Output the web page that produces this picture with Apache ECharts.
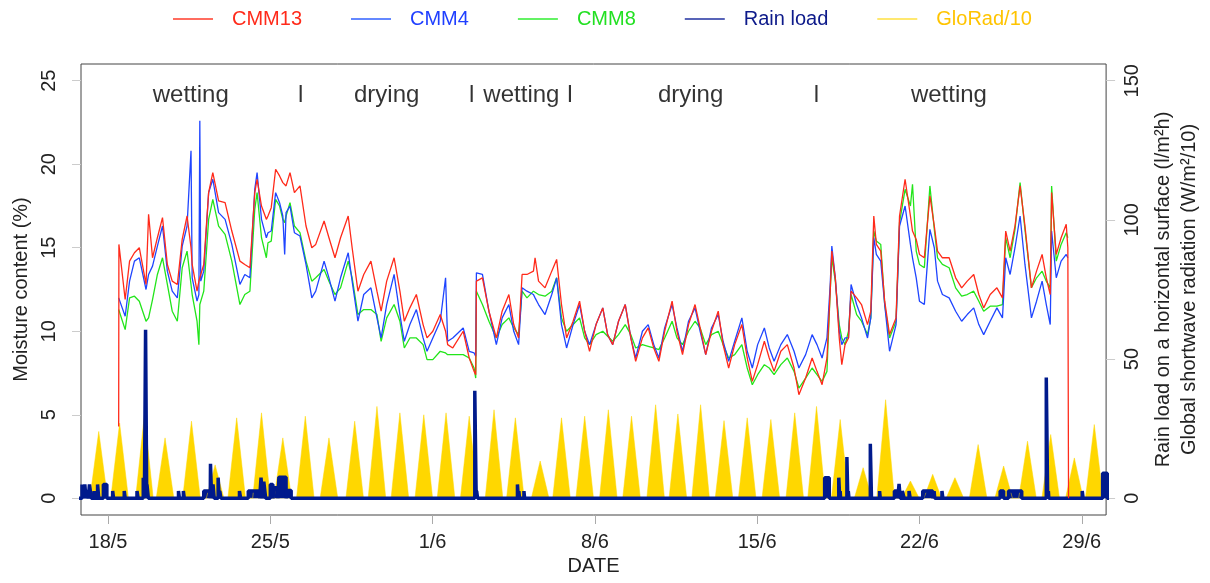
<!DOCTYPE html>
<html style="height: 100%">
<head>
    <meta charset="UTF-8">
    <script src="https://cdn.jsdelivr.net/npm/echarts@6/dist/echarts.min.js"></script>
</head>
<body style="margin: 0; height: 100%; overflow: hidden; background-color: #ffffff">
    <div id="paint" style="width: 100%; height: 100%;"></div>
<script>
    // time in days since 18/5 00:00
    var tickDays = [0, 7, 14, 21, 28, 35, 42];
    var tickLabels = ['18/5', '25/5', '1/6', '8/6', '15/6', '22/6', '29/6'];
    var leftTicks = [0, 5, 10, 15, 20, 25];
    var rightTicks = [0, 50, 100, 150];

    // moisture content (%), shared time points
    var mcT = [0.46, 0.47, 0.74, 0.93, 1.14, 1.35, 1.64, 1.75, 1.92, 2.13, 2.35, 2.56, 2.77, 2.99, 3.2, 3.41, 3.58, 3.63, 3.84, 3.92, 3.96, 4.0, 4.13, 4.34, 4.52, 4.77, 5.05, 5.34, 5.69, 5.9, 6.12, 6.33, 6.43, 6.62, 6.83, 6.9, 7.04, 7.23, 7.4, 7.54, 7.62, 7.68, 7.85, 8.04, 8.28, 8.54, 8.79, 8.96, 9.32, 9.53, 9.79, 10.03, 10.36, 10.53, 10.78, 11.03, 11.34, 11.6, 11.78, 12.02, 12.34, 12.59, 12.78, 13.02, 13.3, 13.59, 13.76, 14.01, 14.33, 14.56, 14.65, 14.87, 15.32, 15.58, 15.79, 15.86, 15.89, 16.15, 16.43, 16.75, 17.0, 17.29, 17.5, 17.71, 17.86, 18.07, 18.35, 18.42, 18.57, 18.85, 19.14, 19.35, 19.56, 19.78, 20.06, 20.34, 20.56, 20.77, 21.05, 21.34, 21.55, 21.77, 22.02, 22.31, 22.55, 22.76, 23.05, 23.3, 23.54, 23.76, 24.01, 24.33, 24.54, 24.78, 25.04, 25.32, 25.54, 25.78, 26.03, 26.32, 26.53, 26.77, 27.03, 27.34, 27.57, 27.79, 28.02, 28.31, 28.52, 28.73, 29.02, 29.3, 29.59, 29.8, 30.09, 30.37, 30.58, 30.8, 31.01, 31.15, 31.22, 31.37, 31.54, 31.65, 31.79, 31.94, 32.05, 32.29, 32.5, 32.76, 32.9, 33.03, 33.14, 33.33, 33.5, 33.71, 33.99, 34.14, 34.38, 34.61, 34.7, 34.86, 35.0, 35.21, 35.45, 35.64, 35.78, 35.99, 36.28, 36.56, 36.82, 37.06, 37.34, 37.56, 37.77, 38.05, 38.34, 38.58, 38.72, 38.91, 39.12, 39.34, 39.55, 39.83, 40.05, 40.29, 40.47, 40.64, 40.7, 40.9, 41.11, 41.33, 41.4, 41.43];
    var cmm13 = [4.3, 15.2, 11.9, 14.2, 14.7, 15.0, 12.8, 17.0, 14.4, 15.6, 16.8, 14.0, 13.0, 12.8, 15.5, 16.9, 15.0, 14.0, 12.4, 13.0, 13.2, 13.2, 14.0, 18.3, 19.5, 17.8, 17.7, 16.0, 14.2, 14.0, 13.8, 18.3, 19.1, 17.5, 16.7, 16.9, 17.4, 19.7, 19.3, 18.9, 19.0, 18.7, 19.5, 18.3, 18.7, 16.3, 15.0, 15.2, 16.6, 15.6, 14.4, 15.6, 16.9, 15.0, 12.4, 13.4, 14.2, 12.4, 11.2, 13.0, 14.4, 12.4, 10.6, 11.4, 12.2, 10.4, 9.6, 10.0, 11.0, 10.0, 9.2, 9.0, 10.0, 8.4, 7.6, 7.4, 13.0, 13.2, 11.2, 9.6, 11.2, 12.2, 10.4, 9.6, 13.4, 13.4, 13.6, 14.4, 13.0, 12.6, 13.6, 14.3, 11.6, 9.6, 10.6, 11.8, 10.0, 8.8, 10.4, 11.4, 9.8, 9.2, 10.6, 11.6, 9.6, 8.2, 9.6, 10.2, 9.0, 8.2, 10.0, 11.8, 10.0, 8.6, 10.4, 11.6, 10.2, 8.6, 10.0, 11.2, 9.2, 7.8, 9.2, 10.4, 8.4, 7.0, 8.0, 9.4, 8.4, 7.6, 8.8, 9.2, 7.8, 6.2, 7.2, 8.4, 7.6, 6.8, 8.4, 12.4, 14.8, 13.2, 9.6, 8.0, 9.2, 9.6, 12.4, 12.0, 11.6, 10.4, 11.2, 16.9, 15.2, 14.8, 11.8, 9.8, 10.8, 16.9, 19.1, 16.9, 16.0, 15.5, 14.6, 14.4, 18.1, 16.3, 14.8, 14.4, 14.4, 13.2, 12.6, 13.0, 13.4, 12.2, 11.4, 12.2, 12.6, 12.0, 16.0, 14.8, 16.3, 18.7, 16.3, 12.6, 13.6, 14.6, 13.2, 12.2, 18.3, 14.6, 15.6, 16.4, 15.0, 0];
    var cmm4 = [12.0, 12.0, 10.9, 13.0, 14.2, 14.4, 12.5, 13.4, 13.9, 15.1, 16.3, 13.6, 12.4, 12.0, 15.1, 16.3, 20.8, 13.2, 11.8, 12.2, 22.6, 13.0, 13.6, 18.3, 19.1, 17.1, 16.7, 15.2, 12.8, 13.4, 13.2, 18.5, 19.5, 16.7, 15.6, 15.9, 16.0, 18.3, 17.7, 16.9, 14.6, 17.1, 17.5, 15.9, 15.7, 14.0, 12.0, 12.4, 14.2, 13.2, 11.8, 13.2, 14.7, 13.0, 10.6, 12.2, 12.6, 10.8, 9.6, 11.6, 13.4, 11.0, 9.4, 10.4, 11.3, 9.6, 8.8, 9.6, 10.6, 13.2, 9.4, 9.6, 10.2, 8.8, 8.7, 8.5, 13.5, 13.4, 11.2, 9.2, 10.8, 11.6, 10.0, 9.2, 12.6, 12.4, 12.2, 12.0, 11.6, 11.0, 12.2, 13.2, 10.4, 9.0, 10.4, 11.6, 10.0, 9.2, 10.4, 11.4, 9.8, 9.2, 10.6, 11.6, 9.6, 8.4, 10.0, 10.4, 9.2, 8.4, 10.2, 11.6, 10.2, 8.8, 10.6, 11.4, 10.0, 8.6, 10.2, 11.0, 9.4, 8.2, 9.4, 10.8, 8.8, 7.8, 9.2, 10.2, 9.0, 8.2, 9.2, 9.8, 8.8, 7.8, 8.6, 9.8, 9.2, 8.4, 9.6, 12.8, 15.1, 13.2, 10.0, 9.2, 9.6, 9.6, 12.8, 11.6, 10.8, 9.6, 10.8, 15.6, 14.6, 14.2, 11.6, 8.8, 10.4, 16.3, 17.5, 15.2, 14.4, 13.2, 11.8, 11.6, 16.1, 15.0, 13.0, 12.2, 12.0, 11.2, 10.6, 11.0, 11.4, 10.4, 9.8, 10.6, 11.4, 10.8, 14.4, 13.4, 15.0, 16.9, 14.0, 10.8, 11.8, 13.0, 11.6, 10.4, 16.0, 13.2, 14.2, 14.6, 14.4, 14.4];
    var cmm8 = [11.3, 11.3, 10.1, 12.0, 12.1, 11.8, 10.6, 10.8, 11.9, 13.4, 14.4, 12.8, 11.2, 10.6, 13.8, 14.8, 12.8, 12.2, 10.6, 9.2, 11.6, 11.6, 12.4, 16.7, 17.9, 16.3, 15.8, 14.2, 11.6, 12.2, 12.4, 17.3, 18.3, 15.6, 14.4, 15.3, 15.4, 17.9, 17.5, 16.7, 16.5, 16.9, 17.7, 16.3, 15.9, 14.2, 13.0, 13.2, 13.7, 13.0, 12.2, 12.6, 14.2, 13.2, 11.0, 11.3, 11.3, 11.0, 9.4, 10.8, 11.6, 10.6, 9.0, 9.6, 9.6, 9.2, 8.3, 8.3, 8.8, 8.7, 8.6, 8.6, 8.6, 8.4, 7.8, 7.2, 12.4, 11.6, 10.6, 9.6, 10.4, 10.8, 10.2, 9.8, 12.4, 12.0, 12.4, 12.3, 12.2, 12.1, 12.4, 13.2, 10.8, 10.0, 10.4, 10.8, 9.6, 9.2, 9.8, 10.0, 9.7, 9.4, 9.8, 10.4, 9.8, 9.0, 9.2, 9.1, 9.0, 8.9, 9.6, 10.6, 9.6, 9.2, 10.0, 10.6, 10.2, 9.2, 9.8, 10.0, 9.2, 8.4, 8.6, 9.2, 7.8, 6.8, 7.4, 8.0, 7.8, 7.4, 8.0, 8.4, 7.6, 6.6, 7.2, 7.8, 7.4, 7.0, 7.6, 12.4, 14.4, 13.0, 10.4, 9.6, 9.2, 10.0, 12.2, 11.0, 10.6, 9.8, 10.8, 16.0, 15.4, 15.2, 11.6, 9.6, 10.6, 16.5, 18.5, 17.5, 18.8, 14.8, 14.0, 13.8, 18.7, 16.1, 14.4, 14.0, 13.8, 12.6, 12.1, 12.2, 12.4, 11.8, 11.2, 11.5, 11.5, 11.6, 15.6, 14.4, 16.1, 18.9, 16.1, 12.6, 13.2, 13.6, 13.0, 12.6, 18.7, 14.2, 15.2, 15.9, 15.6, 15.6];

    // rain load (l/m2h): start day, end day, value
    var rainStart = [-1.12, -1.0, -0.92, -0.8, -0.6, -0.45, -0.2, 0.2, 0.7, 1.25, 1.52, 1.62, 1.68, 3.04, 3.25, 4.13, 4.42, 4.53, 4.75, 4.82, 5.67, 6.05, 6.6, 6.72, 7.0, 7.19, 7.37, 7.71, 15.82, 15.9, 17.66, 17.72, 17.94, 30.91, 31.52, 31.58, 31.87, 31.93, 32.88, 33.28, 33.92, 34.12, 34.26, 34.55, 35.14, 35.63, 35.97, 38.48, 38.84, 40.47, 40.56, 42.02, 42.9];
    var rainEnd = [-1.06, -0.95, -0.85, -0.72, -0.55, -0.4, -0.05, 0.24, 0.74, 1.3, 1.57, 1.67, 1.74, 3.08, 3.29, 4.41, 4.47, 4.58, 4.8, 4.87, 5.72, 6.54, 6.66, 6.8, 7.11, 7.33, 7.68, 7.9, 15.88, 15.94, 17.7, 17.75, 17.97, 31.11, 31.56, 31.6, 31.91, 31.96, 32.93, 33.31, 34.06, 34.17, 34.34, 34.6, 35.57, 35.66, 36.01, 38.63, 39.41, 40.53, 40.58, 42.06, 43.1];
    var rainValue = [5, 5, 3, 5, 2.6, 5, 5, 2.6, 2.6, 2.6, 7.4, 60.5, 5, 2.6, 2.6, 2.6, 12.4, 5, 7.4, 2.6, 2.6, 2.6, 7.4, 6, 5, 3.8, 7.6, 2.8, 38.6, 2.6, 5, 2.6, 2.6, 7.4, 7.4, 2.6, 14.8, 2.6, 19.6, 2.6, 2.6, 5.2, 2.6, 2.6, 2.6, 2.6, 2.6, 2.6, 2.6, 43.4, 2.6, 2.6, 9];

    // global radiation /10: daily peak time and value
    var gloPeakT = [-0.4, 0.5, 1.57, 2.46, 3.6, 4.62, 5.55, 6.62, 7.54, 8.51, 9.53, 10.64, 11.6, 12.59, 13.62, 14.58, 15.58, 16.65, 17.57, 18.64, 19.56, 20.56, 21.58, 22.58, 23.62, 24.58, 25.56, 26.57, 27.57, 28.59, 29.62, 30.56, 31.58, 32.57, 33.54, 34.61, 35.57, 36.53, 37.53, 38.63, 39.66, 40.66, 41.68, 42.54];
    var gloPeak = [24, 27, 30, 21.7, 27.7, 12, 28.9, 30.7, 21.7, 29.5, 21.7, 27.7, 33, 30.7, 30, 30.7, 29.5, 31.8, 28.9, 13.4, 28.9, 29.5, 31.8, 29.5, 33.6, 30.3, 33.6, 27.9, 28.9, 28.3, 30.7, 33, 28.3, 11, 35.4, 6.2, 8.6, 7.4, 19.3, 11.6, 20.5, 22.9, 14.5, 26.5];

    var phaseText = ['wetting', 'l', 'drying', 'l', 'wetting', 'l', 'drying', 'l', 'wetting'];
    var phaseT = [3.57, 8.31, 12.02, 15.69, 17.83, 19.92, 25.13, 30.55, 36.27];

    function pairs(xs, ys) {
        return xs.map(function (x, i) { return [x, ys[i]]; });
    }

    var rainData = [[-1.3, 0]];
    rainStart.forEach(function (s, i) {
        rainData.push([s, 0], [s, rainValue[i]], [rainEnd[i], rainValue[i]], [rainEnd[i], 0]);
    });
    rainData.push([43.3, 0]);

    var gloData = [];
    gloPeakT.forEach(function (t, i) {
        gloData.push([t - 0.38, 0], [t, gloPeak[i]], [t + 0.38, 0]);
    });

    var font = 'Liberation Sans, Arial, sans-serif';
    var labelStyle = {fontSize: 20, color: '#222', fontFamily: font};

    echarts.init(document.getElementById('paint')).setOption({
        animation: false,
        backgroundColor: '#ffffff',
        legend: {
            left: 168,
            top: 4,
            itemWidth: 40,
            itemHeight: 1.5,
            itemGap: 49,
            icon: 'rect',
            textStyle: {fontSize: 20, fontFamily: font, padding: [0, 0, 0, 14]},
            data: [
                {name: 'CMM13', itemStyle: {color: '#ff3b2a'}, textStyle: {color: '#ff2a1a'}},
                {name: 'CMM4', itemStyle: {color: '#3060ff'}, textStyle: {color: '#1f3fff'}},
                {name: 'CMM8', itemStyle: {color: '#30ee30'}, textStyle: {color: '#22e022'}},
                {name: 'Rain load', itemStyle: {color: '#2030a0'}, textStyle: {color: '#0d1a8a'}},
                {name: 'GloRad/10', itemStyle: {color: '#ffe040'}, textStyle: {color: '#ffc400'}}
            ]
        },
        grid: {
            left: 81, right: 93, top: 64, bottom: 68,
            show: true, borderColor: '#444', borderWidth: 1, backgroundColor: 'transparent'
        },
        xAxis: {
            type: 'value',
            min: -1.165,
            max: 43.05,
            name: 'DATE',
            nameLocation: 'middle',
            nameGap: 34,
            nameTextStyle: labelStyle,
            axisLine: {show: false, onZero: false},
            splitLine: {show: false},
            axisTick: {show: true, length: 9, lineStyle: {color: '#aaa'}, customValues: tickDays},
            axisLabel: {
                customValues: tickDays,
                margin: 17,
                fontSize: 20, color: '#222', fontFamily: font,
                formatter: function (v) { return tickLabels[tickDays.indexOf(v)]; }
            }
        },
        yAxis: [
            {
                type: 'value',
                min: -1,
                max: 26,
                name: 'Moisture content (%)',
                nameLocation: 'middle',
                nameRotate: 90,
                nameGap: 48,
                nameTextStyle: labelStyle,
                axisLine: {show: false, onZero: false},
                splitLine: {show: false},
                axisTick: {show: true, length: 9, lineStyle: {color: '#ccc'}, customValues: leftTicks},
                axisLabel: {customValues: leftTicks, rotate: 90, margin: 22, fontSize: 20, color: '#222', fontFamily: font}
            },
            {
                type: 'value',
                position: 'right',
                min: -6,
                max: 156,
                name: 'Rain load on a horizontal surface (l/m²h)\nGlobal shortwave radiation (W/m²/10)',
                nameLocation: 'middle',
                nameRotate: 90,
                nameGap: 36,
                nameTextStyle: {fontSize: 20, color: '#222', fontFamily: font, lineHeight: 26, align: 'center'},
                axisLine: {show: false, onZero: false},
                splitLine: {show: false},
                axisTick: {show: true, length: 9, lineStyle: {color: '#ccc'}, customValues: rightTicks},
                axisLabel: {customValues: rightTicks, rotate: 90, margin: 16, fontSize: 20, color: '#222', fontFamily: font}
            }
        ],
        series: [
            {
                name: 'GloRad/10',
                type: 'line',
                yAxisIndex: 1,
                data: gloData,
                showSymbol: false,
                lineStyle: {width: 0.5, color: '#ffd700'},
                itemStyle: {color: '#ffd700'},
                areaStyle: {color: '#ffd700', opacity: 1}
            },
            {
                name: 'Rain load',
                type: 'line',
                yAxisIndex: 1,
                data: rainData,
                showSymbol: false,
                lineStyle: {width: 3.5, color: '#001a8c'},
                itemStyle: {color: '#001a8c'},
                areaStyle: {color: '#001a8c', opacity: 1}
            },
            {
                name: 'CMM8',
                type: 'line',
                data: pairs(mcT, cmm8),
                showSymbol: false,
                lineStyle: {width: 1.3, color: '#22e51a'},
                itemStyle: {color: '#22e51a'}
            },
            {
                name: 'CMM4',
                type: 'line',
                data: pairs(mcT, cmm4),
                showSymbol: false,
                lineStyle: {width: 1.3, color: '#1f45ff'},
                itemStyle: {color: '#1f45ff'}
            },
            {
                name: 'CMM13',
                type: 'line',
                data: pairs(mcT, cmm13),
                showSymbol: false,
                lineStyle: {width: 1.3, color: '#ff2a1a'},
                itemStyle: {color: '#ff2a1a'}
            },
            {
                type: 'scatter',
                symbolSize: 0,
                data: phaseT.map(function (t, i) { return {value: [t, 24.1], name: phaseText[i]}; }),
                label: {
                    show: true, position: 'inside', formatter: '{b}',
                    fontSize: 24, color: '#000', fontFamily: font
                }
            }
        ]
    });
</script>
</body>
</html>
